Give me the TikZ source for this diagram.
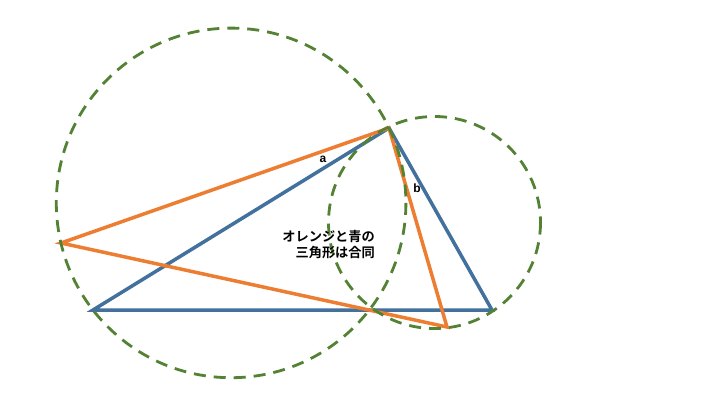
\documentclass[tikz,border=0pt]{standalone}
\usepackage{fontspec}
\setmainfont{Liberation Sans}
\newfontfamily\cjk{Noto Sans CJK JP Bold}
\definecolor{triorange}{HTML}{ED7D31}
\definecolor{triblue}{HTML}{41719C}
\definecolor{circgreen}{HTML}{548235}
\begin{document}
\begin{tikzpicture}[x=1pt,y=-1pt,
  bluetri/.style={draw=triblue,line width=3.5pt,line join=miter},
  orangetri/.style={draw=triorange,line width=3.5pt,line join=miter},
  greencirc/.style={draw=circgreen,line width=2.8pt,dash pattern=on 12pt off 8pt},
  lbl/.style={font=\bfseries\fontsize{12}{14}\selectfont,inner sep=0pt}]
\useasboundingbox[fill=white] (0,0) rectangle (720,405);
\coordinate (apex) at (389,128);
\coordinate (bl) at (93,310);
\coordinate (br) at (492,310);
\coordinate (ol) at (61,243);
\coordinate (ob) at (447,327);
\coordinate (c1) at (231.1,202.9);
\coordinate (c2) at (434.5,222.5);
\draw[bluetri] (bl) -- (apex) -- (br) -- cycle;
\draw[orangetri] (ol) -- (apex) -- (ob) -- cycle;
\draw[greencirc] (c1) circle[radius=174.8];
\draw[greencirc] (c2) circle[radius=106];
\node[lbl] (a) at (323,159) {a};
\node[lbl] (b) at (417,188) {b};
\node[font=\cjk\fontsize{13.2}{16}\selectfont,align=right,inner sep=0pt,anchor=north east] (t) at (375,230.5) {オレンジと青の\\三角形は合同};
\end{tikzpicture}
\end{document}
